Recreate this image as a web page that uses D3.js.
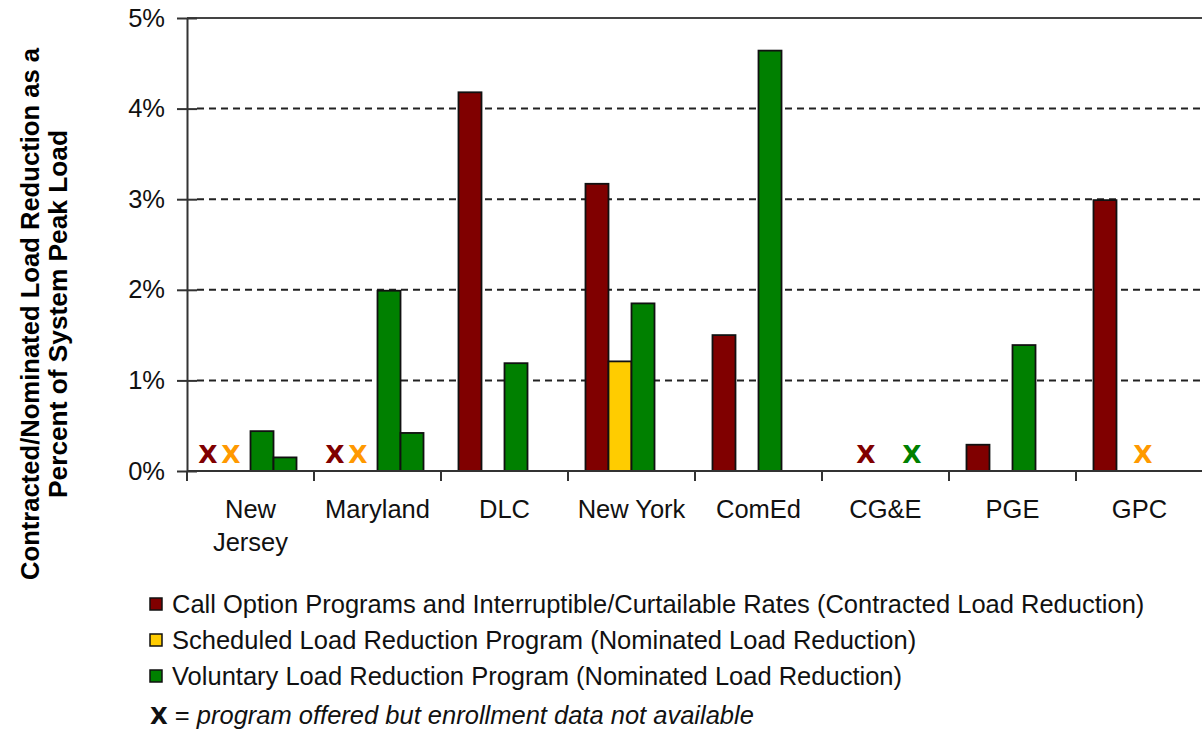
<!DOCTYPE html>
<html>
<head>
<meta charset="utf-8">
<title>Load Reduction as Percent of System Peak Load</title>
<script src="https://cdnjs.cloudflare.com/ajax/libs/d3/7.8.5/d3.min.js"></script>
<style>
    * { margin: 0; padding: 0; }
    body { background: #fff; }
    svg text { font-family: "Liberation Sans", Arial, sans-serif; fill: #000; }
</style>
</head>
<body>
<div class="graph"></div>
<script>
    // Utilities / programs
    var categories = ["New Jersey", "Maryland", "DLC", "New York", "ComEd", "CG&E", "PGE", "GPC"];
    var seriesKeys = ["call", "scheduled", "voluntary", "voluntary2"];

    // percent of system peak load, null = no bar
    var callOption = [null, null, 4.18, 3.17, 1.50, null, 0.29, 2.99];
    var scheduled  = [null, null, null, 1.21, null, null, null, null];
    var voluntary  = [0.44, 1.99, 1.19, 1.85, 4.64, null, 1.39, null];
    var voluntary2 = [0.15, 0.42, null, null, null, null, null, null];

    // "X" = program offered but enrollment data not available
    var markerCats   = ["New Jersey", "New Jersey", "Maryland", "Maryland", "CG&E", "CG&E", "GPC"];
    var markerSeries = ["call", "scheduled", "call", "scheduled", "call", "voluntary", "scheduled"];
    var markerSlots  = [0, 1, 0, 1, 1, 3, 2];

    var yTicks = [0, 1, 2, 3, 4, 5];

    var legendLabels = [
        "Call Option Programs and Interruptible/Curtailable Rates (Contracted Load Reduction)",
        "Scheduled Load Reduction Program (Nominated Load Reduction)",
        "Voluntary Load Reduction Program (Nominated Load Reduction)"
    ];

    var barColors = { call: "#800000", scheduled: "#ffcc00", voluntary: "#008000", voluntary2: "#008000" };
    var xColors = { call: "#800000", scheduled: "#ff9900", voluntary: "#008000" };

    var width = 1202, height = 731;
    var plotLeft = 187, plotRight = 1203, plotTop = 18, plotBottom = 471;
    var fontSize = "25.5px";

    var svg = d3.select(".graph").append("svg")
        .attr("width", width)
        .attr("height", height);

    var xScale = d3.scaleBand().domain(categories).range([plotLeft, plotRight]);
    var slotScale = d3.scaleBand().domain([0, 1, 2, 3])
        .range([0, xScale.bandwidth()])
        .paddingInner(0)
        .paddingOuter(0.76);
    var yScale = d3.scaleLinear().domain([0, 5]).range([plotBottom, plotTop]);

    // dashed grid lines
    svg.append("g").selectAll("line")
        .data(yTicks.filter(function(d) { return d > 0 && d < 5; }))
        .enter().append("line")
        .attr("x1", plotLeft + 10).attr("x2", plotRight)
        .attr("y1", function(d) { return yScale(d); })
        .attr("y2", function(d) { return yScale(d); })
        .attr("stroke", "#222")
        .attr("stroke-width", 2)
        .attr("stroke-dasharray", "7,5");

    // top border
    svg.append("line")
        .attr("x1", plotLeft).attr("x2", plotRight)
        .attr("y1", yScale(5)).attr("y2", yScale(5))
        .attr("stroke", "#444").attr("stroke-width", 2);

    // bars
    var table = { call: callOption, scheduled: scheduled, voluntary: voluntary, voluntary2: voluntary2 };
    var bars = [];
    seriesKeys.forEach(function(k, si) {
        table[k].forEach(function(v, i) {
            if (v !== null) bars.push({ cat: categories[i], slot: si, key: k, value: v });
        });
    });

    svg.append("g").selectAll("rect")
        .data(bars)
        .enter().append("rect")
        .attr("x", function(d) { return xScale(d.cat) + slotScale(d.slot); })
        .attr("y", function(d) { return yScale(d.value); })
        .attr("width", slotScale.bandwidth())
        .attr("height", function(d) { return yScale(0) - yScale(d.value); })
        .attr("fill", function(d) { return barColors[d.key]; })
        .attr("stroke", "#111")
        .attr("stroke-width", 1.8);

    // X markers
    svg.append("g").selectAll("text")
        .data(markerCats)
        .enter().append("text")
        .attr("x", function(d, i) { return xScale(d) + slotScale(markerSlots[i]) + slotScale.bandwidth() / 2 - 8; })
        .attr("y", yScale(0) - 8)
        .attr("text-anchor", "middle")
        .style("font-family", "'DejaVu Sans', sans-serif")
        .style("font-weight", "bold")
        .style("font-size", "25px")
        .style("fill", function(d, i) { return xColors[markerSeries[i]]; })
        .text("X");

    // y axis
    var yAxis = d3.axisLeft(yScale)
        .tickValues(yTicks)
        .tickSizeInner(10)
        .tickSizeOuter(0)
        .tickPadding(12)
        .tickFormat(function(d) { return d + "%"; });

    var yAxisGroup = svg.append("g")
        .attr("transform", "translate(" + plotLeft + ",0)")
        .call(yAxis);
    yAxisGroup.select(".domain").attr("stroke", "#333").attr("stroke-width", 2);
    yAxisGroup.selectAll(".tick line").attr("x2", 10).attr("x1", -10).attr("stroke", "#333").attr("stroke-width", 2);
    yAxisGroup.selectAll(".tick text").style("font-size", fontSize).style("fill", "#111");

    // x axis
    svg.append("line")
        .attr("x1", plotLeft).attr("x2", plotRight)
        .attr("y1", plotBottom).attr("y2", plotBottom)
        .attr("stroke", "#333").attr("stroke-width", 2);

    svg.append("g").selectAll("line")
        .data(categories)
        .enter().append("line")
        .attr("x1", function(d) { return xScale(d); })
        .attr("x2", function(d) { return xScale(d); })
        .attr("y1", plotBottom).attr("y2", plotBottom + 10)
        .attr("stroke", "#333").attr("stroke-width", 2);

    var xLabels = svg.append("g").selectAll("text")
        .data(categories)
        .enter().append("text")
        .attr("text-anchor", "middle")
        .style("font-size", fontSize)
        .style("fill", "#111");
    xLabels.each(function(d) {
        var lines = d === "New Jersey" ? ["New", "Jersey"] : [d];
        var cx = xScale(d) + xScale.bandwidth() / 2;
        d3.select(this).selectAll("tspan")
            .data(lines)
            .enter().append("tspan")
            .attr("x", cx)
            .attr("y", function(l, j) { return 518 + j * 33; })
            .text(function(l) { return l; });
    });

    // y axis title, one text per line
    var titleLines = ["Contracted/Nominated Load Reduction as a", "Percent of System Peak Load"];
    var titleLengths = [532, 368];
    svg.append("g").selectAll("text")
        .data(titleLines)
        .enter().append("text")
        .attr("transform", function(d, i) { return "translate(" + (39 + i * 28) + ",314) rotate(-90)"; })
        .attr("text-anchor", "middle")
        .attr("textLength", function(d, i) { return titleLengths[i]; })
        .attr("lengthAdjust", "spacingAndGlyphs")
        .style("font-weight", "bold")
        .style("font-size", "26px")
        .text(function(d) { return d; });

    // legend
    var legend = svg.append("g").attr("transform", "translate(150,0)");
    var legendKeys = ["call", "scheduled", "voluntary"];
    var legendY = [604, 640, 676];

    legend.selectAll("rect")
        .data(legendKeys)
        .enter().append("rect")
        .attr("x", 0)
        .attr("y", function(d, i) { return legendY[i] - 6; })
        .attr("width", 12).attr("height", 12)
        .attr("fill", function(d) { return barColors[d]; })
        .attr("stroke", "#111").attr("stroke-width", 1.5);

    legend.selectAll("text.lab")
        .data(legendLabels)
        .enter().append("text")
        .attr("class", "lab")
        .attr("x", 22)
        .attr("y", function(d, i) { return legendY[i] + 9; })
        .style("font-size", fontSize)
        .style("fill", "#111")
        .text(function(d) { return d; });

    var note = legend.append("text")
        .attr("x", 0)
        .attr("y", 724)
        .style("font-size", fontSize)
        .style("fill", "#111");
    note.append("tspan")
        .style("font-family", "'DejaVu Sans', sans-serif")
        .style("font-weight", "bold")
        .style("font-size", "23px")
        .text("X");
    note.append("tspan").text(" = ");
    note.append("tspan").style("font-style", "italic").text("program offered but enrollment data not available");
</script>
</body>
</html>
